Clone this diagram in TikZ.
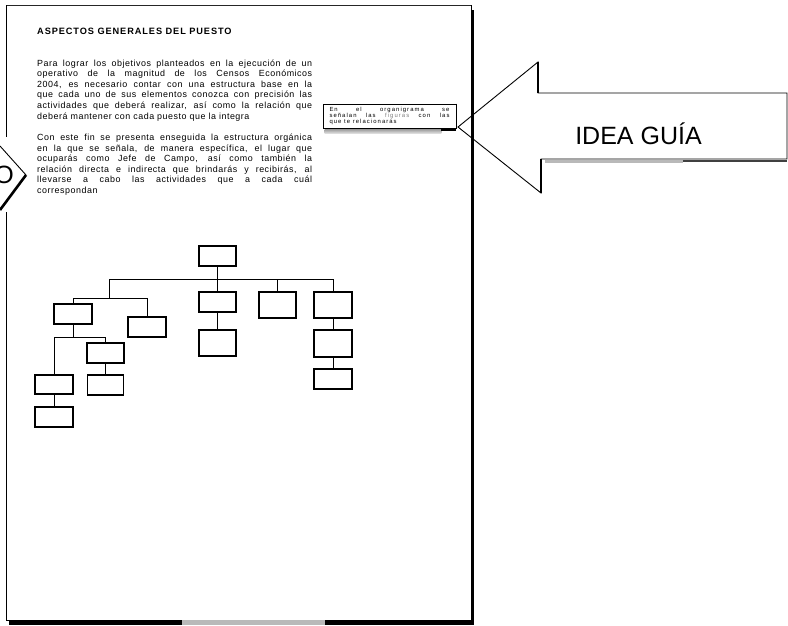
\documentclass[tikz,border=0pt]{standalone}
\usepackage{fontspec}
\setmainfont{Liberation Sans}
\newfontfamily\bodyfont[LetterSpace=6]{Liberation Sans}
\newfontfamily\titlefont[LetterSpace=10]{Liberation Sans}
\newfontfamily\notefont[LetterSpace=18]{Liberation Sans}
\usetikzlibrary{calc}

\begin{document}
\begin{tikzpicture}[x=1pt,y=-1pt,
  orgbox/.style={draw, line width=1.1pt, inner sep=0pt, minimum width=37pt, minimum height=20pt},
  conn/.style={line width=0.8pt},
  pageedge/.style={line width=1pt},
  outline/.style={line width=0.9pt},
  bigfont/.style={font=\fontsize{25}{30}\selectfont},
  notebox/.style={draw, line width=0.8pt, inner sep=0pt, minimum width=133pt, minimum height=24pt,
    text width=120pt, align=justify, font=\notefont\fontsize{5.9}{6.1}\selectfont},
  para/.style={anchor=base west, inner sep=0pt, text width=275pt, align=justify,
    font=\bodyfont\fontsize{8.9}{10.6}\selectfont}
  ]
\useasboundingbox (0,0) rectangle (788,625);
\fill[white] (0,0) rectangle (788,625);

% ---- page sheet ----
\draw[pageedge, black!85] (6,5) -- (472,5);
\draw[pageedge] (471.5,5) -- (471.5,12);
\fill (470.5,10) rectangle (474,622);
\draw[pageedge] (6,5) -- (6,137);
\draw[pageedge] (6,212) -- (6,620) -- (10,620);
\fill (9,619.5) rectangle (474,624.5);
\fill[gray!55] (182,620) rectangle (325,624.5);

% ---- arrow entering from the left ----
\fill[white] (0,146) -- (26,175) -- (0,210) -- cycle;
\draw[outline] (0,146) -- (26,175);
\draw[line width=2.6pt] (26,175) -- (0,210);
\node[bigfont, anchor=base, inner sep=0pt] (lefto) at (4,183) {O};

% ---- text of the sheet ----
\node[anchor=base west, inner sep=0pt, font=\titlefont\bfseries\fontsize{9.2}{11}\selectfont]
  (title) at (37,34) {ASPECTOS GENERALES DEL PUESTO};

\node[para] (p1) at (37,66) {Para lograr los objetivos planteados en la ejecución de un\linebreak
operativo de la magnitud de los Censos Económicos\linebreak
2004, es necesario contar con una estructura base en la\linebreak
que cada uno de sus elementos conozca con precisión las\linebreak
actividades que deberá realizar, así como la relación que\linebreak
deberá mantener con cada puesto que la integra};

\node[para] (p2) at (37,140.5) {Con este fin se presenta enseguida la estructura orgánica\linebreak
en la que se señala, de manera específica, el lugar que\linebreak
ocuparás como Jefe de Campo, así como también la\linebreak
relación directa e indirecta que brindarás y recibirás, al\linebreak
llevarse a cabo las actividades que a cada cuál\linebreak
correspondan};

% ---- note box ----
\node[notebox] (note) at (389.5,116) {En el organigrama se\linebreak
señalan las {\color{gray}figuras} con las\linebreak
que te relacionarás};
\draw[line width=1.6pt] (note.north east) -- (note.south east) -- (note.south west);
\shade[top color=gray!75, bottom color=gray!15]
  ($(note.south west)+(2,1)$) rectangle ($(note.south east)+(-15,5.5)$);
\fill ($(note.south east)+(-15,1)$) rectangle ($(note.south east)+(0,2.2)$);

% ---- big arrow with the guiding idea ----
\draw[outline] (458,127) coordinate (tip) -- (538,62) -- (538,93) -- (787,93)
  -- (787,159) -- (541,159) -- (541,193) -- cycle;
\draw[line width=1.4pt] (538,62) -- (538,93);
\draw[line width=1.4pt] (541,159) -- (541,193);
\fill[gray!55] (545,159.5) rectangle (683,163);
\fill[black!75] (683,159.5) rectangle (787,161.5);
\node[bigfont, anchor=base, inner sep=0pt] (idea) at (638.5,144) {IDEA GUÍA};

% ---- organisation chart ----
\node[orgbox] (top) at (217.5,256) {};
\node[orgbox] (b1) at (217.5,302) {};
\node[orgbox, minimum height=26pt] (b2) at (277.5,305) {};
\node[orgbox, minimum width=38pt, minimum height=26pt] (b3) at (333,305) {};
\node[orgbox, minimum height=26pt] (b1a) at (217.5,343) {};
\node[orgbox, minimum width=38pt, minimum height=27pt] (b3a) at (333,343.5) {};
\node[orgbox, minimum width=38pt] (b3b) at (333,379) {};
\node[orgbox, minimum width=38pt] (l1) at (73,314) {};
\node[orgbox, minimum width=38pt] (l2) at (147,327) {};
\node[orgbox, minimum width=38pt, minimum height=19pt] (l1a) at (54,384.5) {};
\node[orgbox] (l1b) at (105.5,353) {};
\node[orgbox, minimum width=36pt] (l1bb) at (105.5,385) {};
\node[orgbox, minimum width=38pt] (l1aa) at (54,417) {};

\coordinate (busA) at (109,279);
\coordinate (busB) at (109,298);
\coordinate (busC) at (73,337);

\draw[conn] (top.south) -- (top.south |- busA);
\draw[conn] (busA) -- (b3.north |- busA) -- (b3.north);
\draw[conn] (b1.north |- busA) -- (b1.north);
\draw[conn] (b2.north |- busA) -- (b2.north);
\draw[conn] (busA) -- (busB);
\draw[conn] (l1.north) -- (l1.north |- busB) -- (l2.north |- busB) -- (l2.north);
\draw[conn] (b1.south) -- (b1a.north);
\draw[conn] (b3.south) -- (b3a.north);
\draw[conn] (b3a.south) -- (b3b.north);
\draw[conn] (l1.south) -- (l1.south |- busC);
\draw[conn] (l1a.north) -- (l1a.north |- busC) -- (l1b.north |- busC) -- (l1b.north);
\draw[conn] (l1b.south) -- (l1bb.north);
\draw[conn] (l1a.south) -- (l1aa.north);
\end{tikzpicture}
\end{document}
